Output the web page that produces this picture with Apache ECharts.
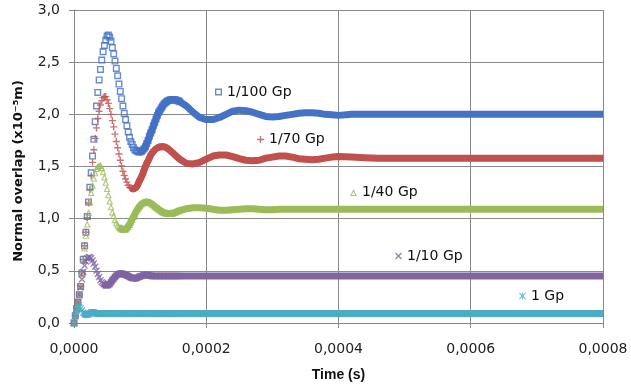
<!DOCTYPE html>
<html>
<head>
<meta charset="utf-8">
<script src="https://cdn.jsdelivr.net/npm/echarts@6/dist/echarts.min.js"></script>
<style>
html,body{margin:0;padding:0;background:#fff;}
#c{width:631px;height:389px;}
</style>
</head>
<body>
<div id="c"></div>
<script>
// Sampling grid of the curves (time in microseconds): [start, step, count]
const timeSegmentsUs = [[0, 2, 81], [170, 10, 24], [420, 20, 20]];

const seriesNames = ['1/100 Gp', '1/70 Gp', '1/40 Gp', '1/10 Gp', '1 Gp'];

// Normal overlap (x10^-5 m), one value per time sample
const overlap100 = [
  0, 0.07, 0.14, 0.20, 0.27, 0.35, 0.48, 0.61, 0.74, 0.87,
  1.02, 1.16, 1.30, 1.44, 1.60, 1.76, 1.93, 2.08, 2.21, 2.33,
  2.43, 2.52, 2.60, 2.66, 2.71, 2.75, 2.76, 2.74, 2.70, 2.64,
  2.58, 2.51, 2.44, 2.37, 2.29, 2.22, 2.15, 2.08, 2.01, 1.95,
  1.89, 1.83, 1.78, 1.74, 1.71, 1.68, 1.66, 1.65, 1.645, 1.64,
  1.64, 1.645, 1.655, 1.67, 1.69, 1.72, 1.75, 1.79, 1.82, 1.85,
  1.89, 1.92, 1.955, 1.99, 2.02, 2.04, 2.06, 2.08, 2.10, 2.11,
  2.12, 2.13, 2.135, 2.14, 2.14, 2.14, 2.14, 2.14, 2.13, 2.13,
  2.12,
  2.08, 2.02, 1.97, 1.95, 1.95, 1.97, 2.00, 2.03, 2.04, 2.035,
  2.02, 2.00, 1.98, 1.975, 1.98, 1.99, 2.00, 2.01, 2.015, 2.015,
  2.01, 2.00, 1.995, 1.99,
  2.00, 2.00, 2.00, 2.00, 2.00, 2.00, 2.00, 2.00, 2.00, 2.00,
  2.00, 2.00, 2.00, 2.00, 2.00, 2.00, 2.00, 2.00, 2.00, 2.00
];
const overlap70 = [
  0, 0.07, 0.14, 0.20, 0.27, 0.35, 0.48, 0.61, 0.74, 0.87,
  1.01, 1.15, 1.28, 1.41, 1.54, 1.66, 1.77, 1.87, 1.96, 2.03,
  2.09, 2.13, 2.16, 2.17, 2.17, 2.14, 2.105, 2.055, 2.00, 1.94,
  1.88, 1.81, 1.74, 1.68, 1.62, 1.56, 1.505, 1.455, 1.415, 1.38,
  1.35, 1.32, 1.30, 1.295, 1.29, 1.285, 1.29, 1.30, 1.32, 1.35,
  1.375, 1.40, 1.43, 1.465, 1.50, 1.53, 1.555, 1.58, 1.61, 1.625,
  1.645, 1.66, 1.67, 1.68, 1.685, 1.69, 1.69, 1.69, 1.69, 1.685,
  1.68, 1.67, 1.66, 1.65, 1.64, 1.625, 1.615, 1.605, 1.59, 1.58,
  1.57,
  1.53, 1.525, 1.54, 1.57, 1.60, 1.61, 1.61, 1.595, 1.575, 1.56,
  1.555, 1.56, 1.58, 1.59, 1.60, 1.60, 1.59, 1.575, 1.57, 1.565,
  1.57, 1.58, 1.59, 1.595,
  1.59, 1.585, 1.58, 1.58, 1.58, 1.58, 1.58, 1.58, 1.58, 1.58,
  1.58, 1.58, 1.58, 1.58, 1.58, 1.58, 1.58, 1.58, 1.58, 1.58
];
const overlap40 = [
  0, 0.07, 0.14, 0.20, 0.27, 0.35, 0.47, 0.60, 0.72, 0.84,
  0.95, 1.06, 1.16, 1.25, 1.32, 1.39, 1.44, 1.48, 1.50, 1.51,
  1.51, 1.49, 1.45, 1.40, 1.35, 1.29, 1.23, 1.17, 1.115, 1.065,
  1.03, 0.99, 0.96, 0.94, 0.92, 0.91, 0.90, 0.895, 0.895, 0.90,
  0.91, 0.925, 0.945, 0.97, 0.995, 1.02, 1.045, 1.07, 1.09, 1.11,
  1.125, 1.14, 1.15, 1.155, 1.16, 1.16, 1.16, 1.155, 1.15, 1.14,
  1.13, 1.12, 1.11, 1.10, 1.09, 1.08, 1.07, 1.065, 1.06, 1.055,
  1.05, 1.05, 1.05, 1.05, 1.05, 1.055, 1.06, 1.065, 1.07, 1.075,
  1.08,
  1.095, 1.105, 1.105, 1.10, 1.09, 1.08, 1.08, 1.085, 1.09, 1.095,
  1.095, 1.09, 1.085, 1.085, 1.09, 1.09, 1.09, 1.09, 1.09, 1.09,
  1.09, 1.09, 1.09, 1.09,
  1.09, 1.09, 1.09, 1.09, 1.09, 1.09, 1.09, 1.09, 1.09, 1.09,
  1.09, 1.09, 1.09, 1.09, 1.09, 1.09, 1.09, 1.09, 1.09, 1.09
];
const overlap10 = [
  0, 0.07, 0.14, 0.20, 0.27, 0.34, 0.42, 0.49, 0.55, 0.59,
  0.62, 0.63, 0.63, 0.62, 0.60, 0.57, 0.54, 0.50, 0.47, 0.44,
  0.41, 0.39, 0.38, 0.37, 0.36, 0.36, 0.365, 0.375, 0.39, 0.41,
  0.425, 0.44, 0.455, 0.465, 0.47, 0.475, 0.475, 0.47, 0.465, 0.46,
  0.455, 0.45, 0.44, 0.435, 0.43, 0.43, 0.43, 0.43, 0.435, 0.44,
  0.445, 0.45, 0.455, 0.46, 0.46, 0.46, 0.46, 0.455, 0.455, 0.45,
  0.45, 0.45, 0.45, 0.45, 0.45, 0.45, 0.45, 0.45, 0.45, 0.45,
  0.45, 0.45, 0.45, 0.45, 0.45, 0.45, 0.45, 0.45, 0.45, 0.45,
  0.45,
  0.45, 0.45, 0.45, 0.45, 0.45, 0.45, 0.45, 0.45, 0.45, 0.45,
  0.45, 0.45, 0.45, 0.45, 0.45, 0.45, 0.45, 0.45, 0.45, 0.45,
  0.45, 0.45, 0.45, 0.45,
  0.45, 0.45, 0.45, 0.45, 0.45, 0.45, 0.45, 0.45, 0.45, 0.45,
  0.45, 0.45, 0.45, 0.45, 0.45, 0.45, 0.45, 0.45, 0.45, 0.45
];
const overlap1 = [
  0, 0.07, 0.13, 0.15, 0.15, 0.14, 0.12, 0.10, 0.085, 0.08,
  0.08, 0.085, 0.09, 0.10, 0.10, 0.10, 0.095, 0.09, 0.09, 0.09,
  0.09, 0.09, 0.09, 0.09, 0.09, 0.09, 0.09, 0.09, 0.09, 0.09,
  0.09, 0.09, 0.09, 0.09, 0.09, 0.09, 0.09, 0.09, 0.09, 0.09,
  0.09, 0.09, 0.09, 0.09, 0.09, 0.09, 0.09, 0.09, 0.09, 0.09,
  0.09, 0.09, 0.09, 0.09, 0.09, 0.09, 0.09, 0.09, 0.09, 0.09,
  0.09, 0.09, 0.09, 0.09, 0.09, 0.09, 0.09, 0.09, 0.09, 0.09,
  0.09, 0.09, 0.09, 0.09, 0.09, 0.09, 0.09, 0.09, 0.09, 0.09,
  0.09,
  0.09, 0.09, 0.09, 0.09, 0.09, 0.09, 0.09, 0.09, 0.09, 0.09,
  0.09, 0.09, 0.09, 0.09, 0.09, 0.09, 0.09, 0.09, 0.09, 0.09,
  0.09, 0.09, 0.09, 0.09,
  0.09, 0.09, 0.09, 0.09, 0.09, 0.09, 0.09, 0.09, 0.09, 0.09,
  0.09, 0.09, 0.09, 0.09, 0.09, 0.09, 0.09, 0.09, 0.09, 0.09
];

// Axis ticks
const xTicks = [0, 0.0002, 0.0004, 0.0006, 0.0008];
const yTicks = [0, 0.5, 1.0, 1.5, 2.0, 2.5, 3.0];

// ---- styling -----
const colors = ['#4472C4', '#C0504D', '#9BBB59', '#8064A2', '#4BACC6'];
const SYM_SQUARE = 'path://M0,0H10V10H0Z M2,2V8H8V2Z';
const SYM_PLUS = 'path://M4,0H6V4H10V6H6V10H4V6H0V4H4Z';
const SYM_TRI = 'path://M5,0L10,10L0,10Z M5,3.9L2.5,8.6L7.5,8.6Z';
const SYM_X = 'path://M0,1.4L1.4,0L5,3.6L8.6,0L10,1.4L6.4,5L10,8.6L8.6,10L5,6.4L1.4,10L0,8.6L3.6,5Z';
const SYM_STAR = 'path://M0,1.2L1.2,0L5,3.8L8.8,0L10,1.2L6.2,5L10,8.8L8.8,10L5,6.2L1.2,10L0,8.8L3.8,5Z M4.4,0H5.6V10H4.4Z';
const symbols = [SYM_SQUARE, SYM_PLUS, SYM_TRI, SYM_X, SYM_STAR];
// index from which the markers merge into a solid band
const bandStart = [48, 43, 34, 22, 7];
const legendPos = [[215, 85], [257, 132.5], [350, 185.5], [395, 249], [519, 289]];

const timeS = [];
timeSegmentsUs.forEach(([s, d, n]) => { for (let i = 0; i < n; i++) timeS.push((s + d * i) * 1e-6); });
const markerEnd = timeSegmentsUs[0][2];

const allValues = [overlap100, overlap70, overlap40, overlap10, overlap1];
const series = [];
allValues.forEach((vals, k) => {
  const pts = vals.map((v, i) => [timeS[i], v]);
  series.push({
    type: 'line', name: seriesNames[k] + ' band', data: pts.slice(bandStart[k]),
    showSymbol: false, silent: true, z: 2 + k,
    lineStyle: { color: colors[k], width: 7 }, itemStyle: { color: colors[k] }
  });
  series.push({
    type: 'scatter', name: seriesNames[k], data: pts.slice(0, markerEnd), silent: true, z: 2 + k,
    symbol: symbols[k], symbolSize: 7, itemStyle: { color: colors[k] }
  });
});

const legends = seriesNames.map((n, k) => ({
  data: [{ name: n, icon: symbols[k] }],
  left: legendPos[k][0], top: legendPos[k][1], padding: 0,
  itemWidth: 7, itemHeight: 7, selectedMode: false,
  textStyle: { fontFamily: 'DejaVu Sans', fontSize: 14, color: '#111' }
}));

const chart = echarts.init(document.getElementById('c'));
chart.setOption({
  animation: false,
  backgroundColor: '#fff',
  grid: { left: 74, right: 28, top: 10, bottom: 66 },
  legend: legends,
  xAxis: {
    type: 'value', min: xTicks[0], max: xTicks[xTicks.length - 1], interval: xTicks[1] - xTicks[0],
    name: 'Time (s)', nameLocation: 'middle', nameGap: 45,
    nameTextStyle: { fontFamily: 'Liberation Sans', fontWeight: 'bold', fontSize: 14, color: '#111' },
    axisLine: { lineStyle: { color: '#868686' } },
    axisTick: { show: true, length: 5, lineStyle: { color: '#868686' } },
    axisLabel: { margin: 19, fontFamily: 'DejaVu Sans', fontSize: 14, color: '#222',
      formatter: v => v.toFixed(4).replace('.', ',') },
    splitLine: { show: true, lineStyle: { color: '#8a8a8a', width: 1 } }
  },
  yAxis: {
    type: 'value', min: yTicks[0], max: yTicks[yTicks.length - 1], interval: yTicks[1] - yTicks[0],
    name: 'Normal overlap (x10⁻⁵m)', nameLocation: 'middle', nameGap: 49, nameRotate: 90,
    nameTextStyle: { fontFamily: 'DejaVu Sans', fontWeight: 'bold', fontSize: 13, color: '#111', padding: [0, 9, 0, 0] },
    axisLine: { show: true, lineStyle: { color: '#868686' } },
    axisTick: { show: true, length: 5, lineStyle: { color: '#868686' } },
    axisLabel: { margin: 14, fontFamily: 'DejaVu Sans', fontSize: 14, color: '#222',
      formatter: v => v.toFixed(1).replace('.', ',') },
    splitLine: { show: true, lineStyle: { color: '#8a8a8a', width: 1 } }
  },
  series: series
});
</script>
</body>
</html>
